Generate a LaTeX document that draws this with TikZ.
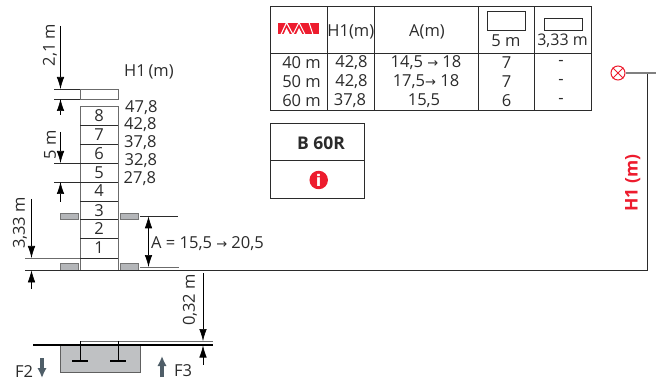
\documentclass[tikz,border=0pt]{standalone}
\usepackage{fontspec}
\setmainfont{Open Sans}
\newfontfamily\arrowfont{DejaVu Sans}
\usetikzlibrary{arrows.meta}
\definecolor{dk}{HTML}{2B2B2B}
\definecolor{red1}{HTML}{ED1C2E}
\definecolor{pad}{HTML}{B4B6B9}
\definecolor{frc}{HTML}{4F5E68}
\tikzset{
 x=1pt,y=-1pt,
 lbl/.style={font=\fontsize{16.5}{16.5}\selectfont,text=dk,inner sep=0pt},
 num/.style={lbl,anchor=west},
 cell/.style={lbl,anchor=center},
 vlab/.style={lbl,rotate=90,anchor=center},
 ln/.style={draw=dk,line width=0.7pt},
 gl/.style={draw=dk!70,line width=0.9pt},
 dim/.style={draw=black,line width=0.6pt,-{Latex[length=12pt,width=7.5pt]}},
 padbox/.style={draw=dk!65,fill=pad,line width=0.8pt},
 forcearrow/.style={draw=frc,line width=3.2pt,-{Latex[length=10pt,width=9.5pt]}},
}
\newcommand{\arw}{{\arrowfont\fontsize{13}{13}\selectfont →}}
\begin{document}
\begin{tikzpicture}
\useasboundingbox (0,0) rectangle (662,385);
% mast
\draw[gl] (80,89) rectangle (118,99);
\draw[gl] (80,106.5) rectangle (118,270.3);
\foreach \y in {125,144,163,182,201,219.7,238.7,258}{\draw[ln] (80,\y)--(118,\y);}
\foreach \t/\y in {8/115.5,7/135,6/153.5,5/173,4/190.5,3/210.5,2/229,1/248}{\node[cell] at (99,\y) {\t};}
% pads
\foreach \a/\b in {60/78,120.5/138.5}{
 \draw[padbox] (\a,213)rectangle(\b,219.7);
 \draw[padbox] (\a,263.5)rectangle(\b,270.3);}
% ground and sensor line
\coordinate (gl) at (25,270.3); \coordinate (gr) at (647.5,270.3); \coordinate (gt) at (647.5,73);
\draw[ln] (gl)--(gr)--(gt);
\node[circle,draw=red1,line width=1pt,minimum size=14pt,inner sep=0pt] (sens) at (618,73) {};
\draw[red1,line width=1pt] (sens.north west)--(sens.south east) (sens.north east)--(sens.south west);
\coordinate (send) at (656,73);
\draw[draw=gray,line width=1.2pt] (sens)++(7.5,0)--(send);
\node[lbl,font=\fontsize{17.5}{17.5}\selectfont\bfseries,text=red1,rotate=90] at (632.7,183) {H1 (m)};
% H1 labels
\node[num] at (124,72) {H1\,(m)};
\node[num] at (125,107.5) {47,8};
\node[num] at (124,125) {42,8};
\node[num] at (124,142.5) {37,8};
\node[num] at (124.5,161) {32,8};
\node[num] at (123.5,179) {27,8};
% top dims
\draw[ln] (54,89)--(80,89) (54,99)--(80,99);
\draw[dim] (60.5,26)--(60.5,89);
\draw[dim] (60.5,115)--(60.5,99);
\node[vlab] at (50,45) {2,1 m};
\draw[ln] (54,163)--(80,163) (54,182)--(80,182);
\draw[dim] (60.5,132)--(60.5,163);
\draw[dim] (60.5,202)--(60.5,182);
\node[vlab] at (50,145) {5 m};
% 3.33
\draw[gl] (25,258)--(80,258);
\draw[dim] (31.5,199)--(31.5,258);
\draw[dim] (31.5,289)--(31.5,270.3);
\node[vlab] at (20,223) {3,33 m};
% A
\draw[ln] (140,216.3)--(178,216.3);
\draw[gl] (140,267)--(179,267);
\draw[dim,{Latex[length=12pt,width=7.5pt]}-{Latex[length=12pt,width=7.5pt]}] (148.5,216.3)--(148.5,267);
\node[num] at (151,244) {A = 15,5 \arw{} 20,5};
% base
\draw[draw=dk!75,fill=pad!85,line width=0.9pt] (60,345) rectangle (140,372);
\draw[gl,line width=0.7pt] (80,341)--(213,341);
\draw[draw=black,line width=1.5pt] (33,345)--(213,345);
\draw[black,line width=0.9pt] (80,341)--(80,361) (118,341)--(118,361);
\draw[black,line width=1.5pt] (72,361)--(88,361) (110,361)--(126,361);
\draw[dim] (203,273)--(203,341);
\draw[dim] (203,364.5)--(203,345.5);
\node[vlab] at (190,300) {0,32 m};
\draw[forcearrow] (42,358)--(42,378);
\draw[forcearrow] (162,377)--(162,356);
\node[num] at (15,372) {F2};
\node[num] at (174,371) {F3};
% table
\draw[ln,line width=0.8pt] (270,6.7) rectangle (591.3,110.7);
\draw[ln,line width=0.8pt] (270,53.7)--(591.3,53.7);
\foreach \x in {327,374.3,478.3,534.3}{\draw[ln,line width=0.8pt] (\x,6.7)--(\x,110.7);}
% logo
\fill[red1] (278,23) rectangle (319.3,34);
\draw[white,line width=1.1pt] (281,34.5)--(286.5,22.5)--(293,34.5)--(299,22.5)--(305,34.5) (309,22.5)--(313,34.5);
\fill[white] (283.5,34.5)--(286.5,28)--(290,34.5)--cycle (296,34.5)--(299,28)--(302.5,34.5)--cycle;
\node[cell] at (350.8,31.5) {H1(m)};
\node[cell] at (427,31.5) {A(m)};
\draw[ln,line width=0.7pt] (487.5,11.7) rectangle (525.5,30.5);
\node[cell] at (506,41) {5 m};
\draw[ln,line width=0.7pt] (544,18) rectangle (582,30.5);
\node[cell,font=\fontsize{16}{16}\selectfont] at (562.5,41) {3,33 m};
\foreach \y/\a in {63/40 m,82/50 m,101/60 m}{\node[cell] at (301.5,\y) {\a};}
\node[cell] at (351.5,63) {42,8};
\node[cell] at (351.5,82) {42,8};
\node[cell] at (350,101) {37,8};
\node[cell] at (426,63) {14,5 \arw{} 18};
\node[cell] at (426,82) {17,5\arw{} 18};
\node[cell] at (424,101) {15,5};
\foreach \y/\v in {63/7,82/7,101/6}{\node[cell] at (506.5,\y) {\v};}
\foreach \y in {63,82,101}{\node[cell] at (561,\y) {-};}
% B 60R box
\draw[ln,line width=0.8pt] (270,123) rectangle (364.7,198.5);
\draw[ln,line width=0.8pt] (270,160.7)--(364.7,160.7);
\node[cell,font=\fontsize{17.5}{17.5}\selectfont\bfseries] at (321,143) {B 60R};
\node[circle,fill=red1,minimum size=18.5pt,inner sep=0pt,text=white,font=\arrowfont\bfseries\fontsize{16}{16}\selectfont] at (318.7,180) {i};
\end{tikzpicture}
\end{document}
